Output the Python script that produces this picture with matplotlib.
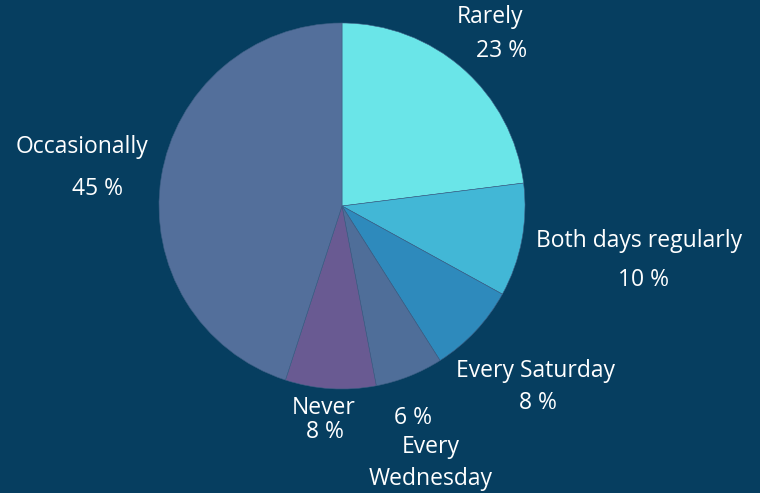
import matplotlib.pyplot as plt
import numpy as np

plt.rcParams['font.family'] = ['Open Sans', 'DejaVu Sans']

labels = ['Rarely', 'Both days regularly', 'Every Saturday', 'Every Wednesday', 'Never', 'Occasionally']
values = [23, 10, 8, 6, 8, 45]
colors = ['#6ae5e8', '#42b7d6', '#2e8abc', '#4f6e99', '#695a92', '#536f9b']
bg = '#063e60'

# label layout: (label text, label center, pct center) in pixel coords (y down)
label_pos = {
    'Rarely': ('Rarely', (490, 17), (502, 51)),
    'Both days regularly': ('Both days regularly', (639, 241), (643, 280)),
    'Every Saturday': ('Every Saturday', (536, 371), (538, 403)),
    'Every Wednesday': ('Every\nWednesday', (431, 463), (413, 418)),
    'Never': ('Never', (324, 408), (325, 432)),
    'Occasionally': ('Occasionally', (82, 147), (97, 189)),
}

W, H = 760, 493
fig = plt.figure(figsize=(W / 100, H / 100), dpi=100)
fig.patch.set_facecolor(bg)
ax = fig.add_axes([0, 0, 1, 1])
ax.set_facecolor(bg)

ax.pie(values, colors=colors, startangle=90, counterclock=False,
       center=(342, H - 206), radius=183,
       wedgeprops=dict(linewidth=0.4, edgecolor='#3d5f85'))
ax.set_xlim(0, W)
ax.set_ylim(0, H)
ax.set_aspect('equal')
ax.axis('off')

for name, v in zip(labels, values):
    txt, (lx, ly), (px, py) = label_pos[name]
    ax.text(lx, H - ly, txt, color='white', fontsize=16.5, ha='center', va='center',
            linespacing=1.45)
    ax.text(px, H - py, f'{v} %', color='white', fontsize=16.5, ha='center', va='center')

fig.savefig('out.png', dpi=100, facecolor=bg)
